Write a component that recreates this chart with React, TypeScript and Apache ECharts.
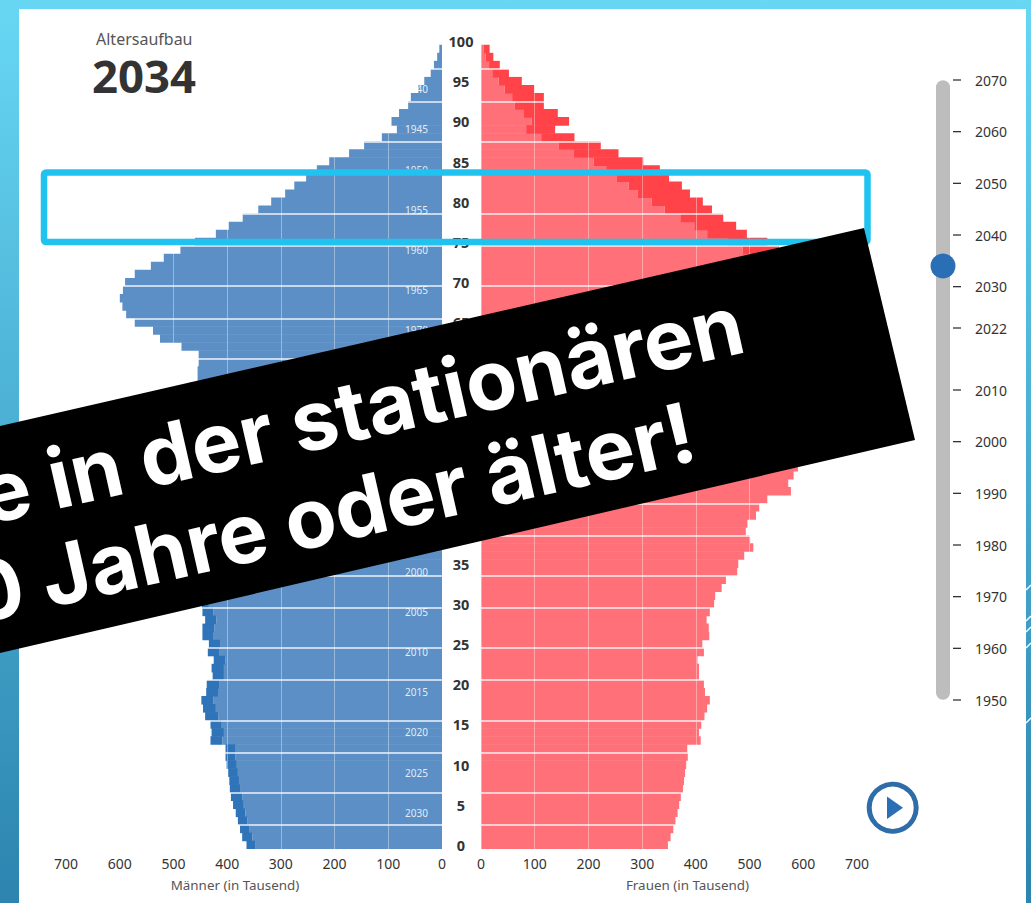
import React, { useEffect, useRef } from "react";
import * as echarts from "echarts";

const currentYear = 2034;
// Population by single year of age, index = age 0..100 (thousands)
const men = [
  364, 372, 376, 380, 384, 389, 393, 395, 396, 398,
  401, 403, 403, 431, 429, 431, 441, 445, 448, 439,
  438, 427, 429, 425, 436, 434, 446, 446, 441, 446,
  447, 450, 462, 470, 490, 495, 505, 520, 515, 505,
  510, 525, 535, 550, 590, 590, 595, 590, 575, 560,
  540, 525, 510, 500, 495, 490, 480, 470, 455, 455,
  453, 453, 485, 525, 538, 572, 588, 595, 600, 594,
  590, 572, 542, 518, 487, 460, 421, 397, 371, 342,
  318, 292, 275, 253, 233, 210, 173, 145, 112, 84,
  94, 80, 63, 58, 44, 33, 21, 15, 9, 5, 0,
];
const women = [
  348, 353, 358, 362, 366, 369, 372, 376, 378, 380,
  382, 385, 384, 409, 406, 410, 416, 421, 426, 417,
  415, 406, 406, 403, 415, 412, 425, 424, 420, 426,
  434, 436, 448, 456, 477, 479, 490, 507, 501, 493,
  496, 512, 518, 533, 577, 572, 582, 590, 575, 560,
  540, 530, 515, 505, 495, 490, 480, 475, 465, 460,
  462, 465, 500, 540, 555, 590, 605, 615, 620, 622,
  620, 605, 590, 575, 555, 533, 495, 475, 451, 430,
  413, 389, 374, 350, 333, 302, 256, 223, 174, 138,
  164, 143, 117, 117, 99, 76, 52, 35, 23, 16, 0,
];
const ages = men.map((_, i) => String(i));
const separatorAges = [3, 7, 12, 16, 21, 25, 30, 34, 39, 43, 48, 52, 57, 61, 66, 70, 75, 79, 84, 88, 93, 97];
const sliderYears = [1950, 1960, 1970, 1980, 1990, 2000, 2010, 2022, 2030, 2040, 2050, 2060, 2070];
const sliderTrackEnds = [1951.4, 2068.6];
const maxCohortAge = 94;

const FONT = "'Noto Sans', 'Open Sans', sans-serif";
const BANNER_FONT = "Inter, Lato, sans-serif";
const LIGHT_BLUE = "#5b8fc6";
const DARK_BLUE = "#2f73b8";
const LIGHT_RED = "#ff7078";
const DARK_RED = "#ff4349";

const common = (men as number[]).map((m, i) => Math.min(m, women[i]));
const menSurplus = men.map((m, i) => m - common[i]);
const womenSurplus = women.map((w, i) => w - common[i]);

const valueAxis = (gridIndex: number, inverse: boolean, name: string, padding: number[]) => ({
  type: "value",
  gridIndex,
  inverse,
  min: 0,
  max: 700,
  interval: 100,
  z: 3,
  axisLine: { show: false },
  axisTick: { show: false },
  axisLabel: { color: "#333", fontSize: 14, fontFamily: FONT, margin: 7, hideOverlap: false },
  splitLine: { show: true, lineStyle: { color: "rgba(255,255,255,0.38)", width: 1 } },
  name,
  nameLocation: "middle",
  nameGap: 29,
  nameTextStyle: { color: "#555", fontSize: 13.4, fontFamily: FONT, padding },
});

const bandAxis = (gridIndex: number) => ({
  type: "category",
  gridIndex,
  data: ages,
  position: "left",
  z: 3,
  axisLine: { show: false },
  axisTick: { show: false },
  axisLabel: { show: false },
  splitLine: {
    show: true,
    interval: (i: number) => separatorAges.includes(i),
    lineStyle: { color: "rgba(255,255,255,0.88)", width: 1.5 },
  },
});

const barSeries = (name: string, data: number[], idx: number, color: string) => ({
  type: "bar",
  name,
  xAxisIndex: idx,
  yAxisIndex: idx === 0 ? 0 : 2,
  stack: `s${idx}`,
  data,
  barWidth: 8.6,
  itemStyle: { color },
  silent: true,
});

export default function App() {
  const ref = useRef<HTMLDivElement>(null);

  useEffect(() => {
    const chart = echarts.init(ref.current!, null, { renderer: "svg" });
    chart.setOption({
      animation: false,
      backgroundColor: new echarts.graphic.LinearGradient(0, 0, 0, 1, [
        { offset: 0, color: "#67d7f4" },
        { offset: 1, color: "#2c84af" },
      ]),
      grid: [
        { left: 66, width: 376, top: 37, height: 812 },
        { left: 481, width: 376, top: 37, height: 812 },
        { left: 943, width: 10, top: 80, height: 620 },
      ],
      xAxis: [
        valueAxis(0, true, "Männer (in Tausend)", [0, 38, 0, 0]),
        valueAxis(1, false, "Frauen (in Tausend)", [0, 0, 0, 37]),
        { type: "value", gridIndex: 2, min: 0, max: 1, show: false },
      ],
      yAxis: [
        {
          ...bandAxis(0),
          position: "right",
          axisLabel: {
            show: true,
            interval: 4,
            align: "center",
            margin: 19,
            padding: [0, 0, 2, 0],
            color: "#333",
            fontSize: 14.5,
            fontWeight: "bold",
            fontFamily: FONT,
          },
        },
        {
          type: "category",
          gridIndex: 0,
          data: ages,
          position: "right",
          z: 4,
          axisLine: { show: false },
          axisTick: { show: false },
          splitLine: { show: false },
          axisLabel: {
            inside: true,
            margin: 14,
            interval: (i: number) => (currentYear - i) % 5 === 0 && i <= maxCohortAge,
            formatter: (v: string) => String(currentYear - Number(v)),
            color: "rgba(255,255,255,0.85)",
            fontSize: 10,
            fontFamily: FONT,
          },
        },
        bandAxis(1),
        {
          type: "value",
          gridIndex: 2,
          position: "right",
          min: 1950,
          max: 2070,
          axisLine: { show: false },
          splitLine: { show: false },
          axisTick: { show: false },
          axisLabel: {
            customValues: sliderYears,
            margin: 22,
            padding: [0, 0, 2, 0],
            color: "#333",
            fontSize: 14,
            fontFamily: FONT,
            formatter: (v: number) => String(v),
          },
        },
      ],
      series: [
        barSeries("Männer", common, 0, LIGHT_BLUE),
        barSeries("Männerüberschuss", menSurplus, 0, DARK_BLUE),
        barSeries("Frauen", common, 1, LIGHT_RED),
        barSeries("Frauenüberschuss", womenSurplus, 1, DARK_RED),
        {
          type: "line",
          xAxisIndex: 2,
          yAxisIndex: 3,
          data: sliderTrackEnds.map((y) => [0, y]),
          symbol: "none",
          clip: false,
          silent: true,
          lineStyle: { color: "#bdbdbd", width: 14, cap: "round" },
        },
        {
          type: "scatter",
          xAxisIndex: 2,
          yAxisIndex: 3,
          data: sliderYears.map((y) => [0, y]),
          symbol: "rect",
          symbolSize: [8, 1.3],
          symbolOffset: [14, 0],
          clip: false,
          silent: true,
          z: 4,
          itemStyle: { color: "#333", opacity: 1 },
        },
        {
          type: "scatter",
          xAxisIndex: 2,
          yAxisIndex: 3,
          data: [[0, currentYear]],
          symbolSize: 25,
          clip: false,
          silent: true,
          z: 5,
          itemStyle: { color: "#2a6fb5", opacity: 1 },
        },
      ],
      graphic: [
        { type: "rect", z: -1, silent: true, shape: { x: 19, y: 9, width: 1007, height: 894 }, style: { fill: "#fff" } },
        ...[590, 621, 632, 648, 723].map((y) => ({
          type: "line",
          z: -1,
          silent: true,
          shape: { x1: 1026, y1: y, x2: 1031, y2: y - 5 },
          style: { stroke: "#fff", lineWidth: 1.5 },
        })),
        {
          type: "text",
          x: 96,
          y: 39,
          z: 5,
          style: { text: "Altersaufbau", fontSize: 16, lineHeight: 18, fontFamily: FONT, fill: "#555", verticalAlign: "middle" },
        },
        {
          type: "text",
          x: 92,
          y: 75,
          z: 5,
          style: { text: String(currentYear), fontSize: 45.5, lineHeight: 34, fontWeight: "bold", fontFamily: FONT, fill: "#333", verticalAlign: "middle" },
        },
        {
          type: "rect",
          z: 50,
          silent: true,
          shape: { x: 44, y: 172.5, width: 823.5, height: 69.5, r: 2 },
          style: { fill: "none", stroke: "#20c3ef", lineWidth: 6.5 },
        },
        {
          type: "circle",
          z: 5,
          shape: { cx: 892.7, cy: 807.7, r: 23.5 },
          style: { fill: "#fff", stroke: "#2e6da8", lineWidth: 5 },
        },
        {
          type: "polygon",
          z: 6,
          shape: { points: [[887, 796.5], [903, 807.7], [887, 819]] },
          style: { fill: "#2a6fb5" },
        },
        {
          type: "polygon",
          z: 100,
          silent: true,
          shape: { points: [[864, 228], [915, 440], [0, 653], [0, 426]] },
          style: { fill: "#000" },
        },
        {
          type: "text",
          z: 101,
          x: -28,
          y: 455,
          rotation: 0.224,
          style: { text: "e in der stationären", fontSize: 83, fontWeight: "bold", fontFamily: BANNER_FONT, fill: "#fff" },
        },
        {
          type: "text",
          z: 101,
          x: -41,
          y: 555,
          rotation: 0.224,
          style: { text: "0 Jahre oder älter!", fontSize: 83, fontWeight: "bold", fontFamily: BANNER_FONT, fill: "#fff" },
        },
      ],
    });
    return () => chart.dispose();
  }, []);

  return <div ref={ref} style={{ position: "absolute", left: 0, top: 0, width: 1031, height: 903 }} />;
}
